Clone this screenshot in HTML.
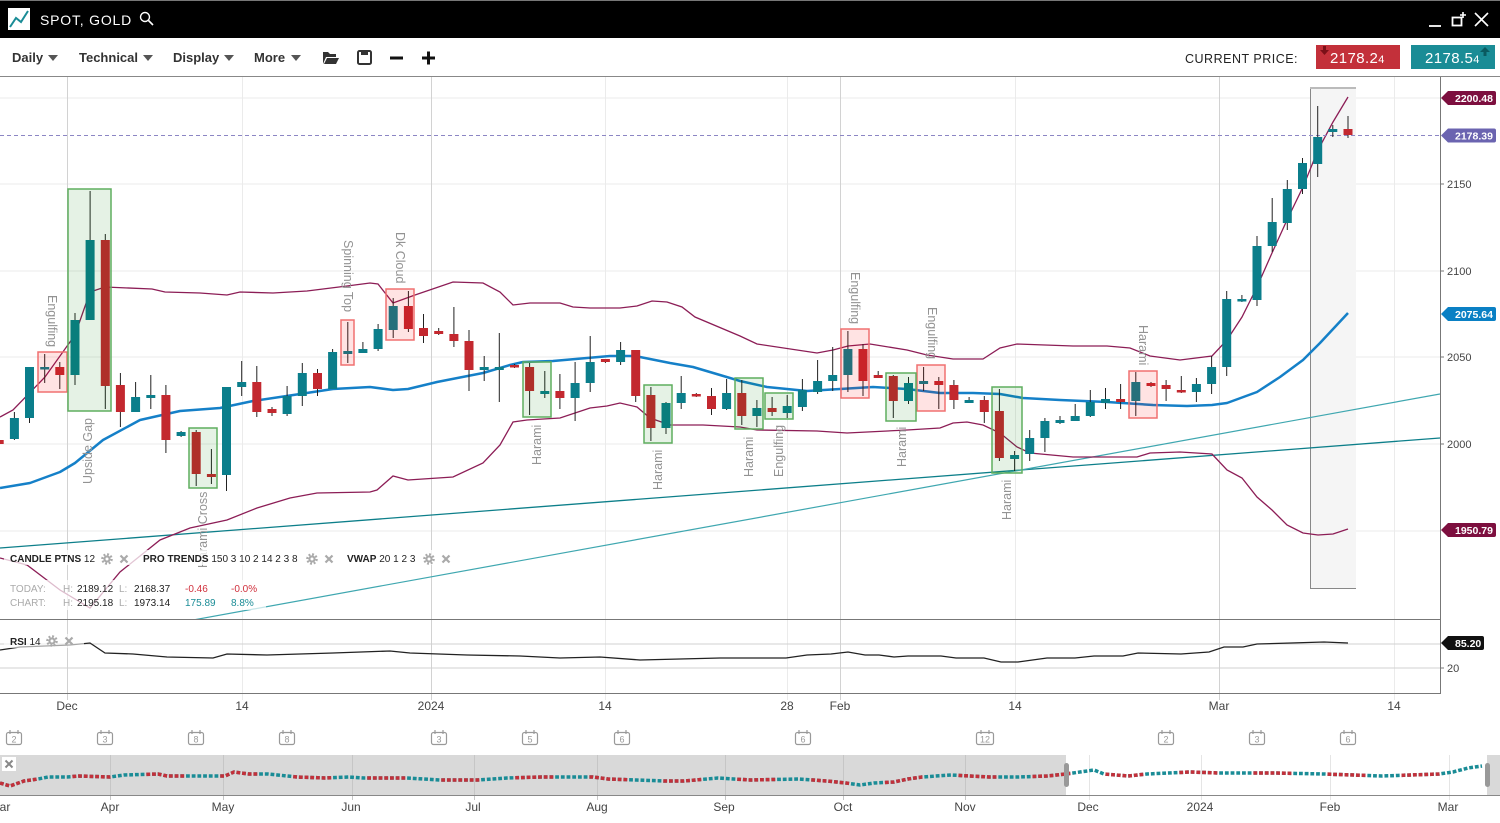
<!DOCTYPE html>
<html><head><meta charset="utf-8"><style>
html,body{margin:0;padding:0;background:#fff;}
svg{display:block;font-family:"Liberation Sans",sans-serif;}
</style></head><body>
<svg width="1500" height="823" viewBox="0 0 1500 823" xmlns="http://www.w3.org/2000/svg">
<defs>
<clipPath id="main"><rect x="0" y="77" width="1440" height="542"/></clipPath>
<clipPath id="rsi"><rect x="0" y="620" width="1440" height="73"/></clipPath>
<g id="gear"><circle r="4.6" fill="none" stroke="#aaa" stroke-width="2.4" stroke-dasharray="1.9 1.7"/><circle r="3.6" fill="#aaa"/><circle r="1.5" fill="#fff"/></g>
</defs>
<rect width="1500" height="823" fill="#fff"/>

<!-- title bar -->
<rect x="0" y="0" width="1500" height="38" fill="#000"/>
<rect x="0" y="0" width="1500" height="1" fill="#777"/>
<rect x="8" y="8" width="22" height="22" fill="#fff"/>
<polyline points="10,27 16,18 21,22 28,11" fill="none" stroke="#1a8c96" stroke-width="2"/>
<text x="40" y="25" fill="#fff" font-size="14" letter-spacing="0.8">SPOT, GOLD</text>
<circle cx="145" cy="17" r="4.5" fill="none" stroke="#fff" stroke-width="1.4"/>
<line x1="148.5" y1="20.5" x2="153" y2="25" stroke="#fff" stroke-width="1.6"/>
<line x1="1429" y1="26" x2="1441" y2="26" stroke="#fff" stroke-width="1.8"/>
<rect x="1452.5" y="17.5" width="9" height="8" fill="none" stroke="#fff" stroke-width="1.8"/>
<path d="M1463,12v6M1460,15h6" stroke="#fff" stroke-width="1.6"/>
<path d="M1475,13L1488,26M1488,13L1475,26" stroke="#fff" stroke-width="1.6"/>

<!-- toolbar -->
<g font-size="13" font-weight="bold" fill="#333">
<text x="12" y="62">Daily</text>
<text x="79" y="62">Technical</text>
<text x="173" y="62">Display</text>
<text x="254" y="62">More</text>
</g>
<g fill="#555">
<polygon points="48,55 58,55 53,61"/>
<polygon points="143,55 153,55 148,61"/>
<polygon points="224,55 234,55 229,61"/>
<polygon points="291,55 301,55 296,61"/>
</g>
<path d="M323,52h5l2,2h6v3h-10l-3,7z" fill="#333"/>
<path d="M327,58h12l-3,6h-12z" fill="#333"/>
<rect x="358" y="51" width="13" height="13" rx="1.5" fill="none" stroke="#333" stroke-width="2"/>
<rect x="361" y="51" width="7" height="4" fill="#333"/>
<rect x="390" y="56.5" width="13" height="3" fill="#111"/>
<rect x="422" y="56.5" width="13" height="3" fill="#111"/>
<rect x="427" y="51.5" width="3" height="13" fill="#111"/>

<text x="1185" y="63" font-size="12.5" letter-spacing="0.5" fill="#222">CURRENT PRICE:</text>
<rect x="1316" y="45" width="84" height="24" fill="#c3303a"/>
<text x="1330" y="63" font-size="15" fill="#fff" letter-spacing="0.4">2178.2<tspan font-size="11">4</tspan></text>
<rect x="1323" y="46" width="3" height="5" fill="#7a1018"/>
<polygon points="1320,50 1329,50 1324.5,55" fill="#7a1018"/>
<rect x="1411" y="45" width="84" height="24" fill="#1a8c96"/>
<text x="1425" y="63" font-size="15" fill="#fff" letter-spacing="0.4">2178.5<tspan font-size="11">4</tspan></text>
<polygon points="1480,52 1490,52 1485,47" fill="#0a5a60"/>
<rect x="1483.5" y="52" width="3" height="4" fill="#0a5a60"/>

<rect x="0" y="76" width="1500" height="1" fill="#888"/>

<!-- grid -->
<g stroke="#ebebeb" stroke-width="1">
<line x1="0" y1="98" x2="1440" y2="98"/>
<line x1="0" y1="184" x2="1440" y2="184"/>
<line x1="0" y1="271" x2="1440" y2="271"/>
<line x1="0" y1="357" x2="1440" y2="357"/>
<line x1="0" y1="444" x2="1440" y2="444"/>
<line x1="0" y1="531" x2="1440" y2="531"/>
<line x1="242.5" y1="77" x2="242.5" y2="700"/>
<line x1="605.5" y1="77" x2="605.5" y2="700"/>
<line x1="787.5" y1="77" x2="787.5" y2="700"/>
<line x1="1015.5" y1="77" x2="1015.5" y2="700"/>
<line x1="1394.5" y1="77" x2="1394.5" y2="700"/>
</g>
<g stroke="#d2d2d2" stroke-width="1">
<line x1="67.5" y1="77" x2="67.5" y2="700"/>
<line x1="431.5" y1="77" x2="431.5" y2="700"/>
<line x1="840.5" y1="77" x2="840.5" y2="700"/>
<line x1="1219.5" y1="77" x2="1219.5" y2="700"/>
</g>

<!-- highlight box -->
<rect x="1310" y="87" width="46" height="501" fill="#f5f5f5"/>
<line x1="1310.5" y1="87" x2="1310.5" y2="589" stroke="#888"/>
<line x1="1310" y1="588.5" x2="1356" y2="588.5" stroke="#888"/>
<line x1="1310" y1="88" x2="1356" y2="88" stroke="#bbb" stroke-width="2"/>

<g clip-path="url(#main)">
<!-- trend lines -->
<line x1="0" y1="548" x2="1440" y2="438" stroke="#0d7f8a" stroke-width="1.3"/>
<line x1="0" y1="655" x2="1440" y2="394" stroke="#3fa7b0" stroke-width="1.2"/>
<!-- bollinger -->
<polyline fill="none" stroke="#8c1d56" stroke-width="1.3" points="0,417 13,410 45,377 75,335 90,292 105,287 152,289 165,292 200,293 227,295 240,292 273,293 307,291 347,286 370,283 378,284 393,303 415,295 453,282 483,283 500,292 513,305 530,303 560,303 573,307 590,308 620,308 637,306 652,301 667,302 682,307 695,317 740,336 757,344 817,353 833,350 848,346 870,344 907,350 927,355 953,359 983,359 1000,348 1017,344 1073,346 1107,346 1130,348 1150,356 1180,360 1212,356 1227,340 1242,317 1257,287 1272,253 1287,220 1303,187 1318,150 1333,122 1348,97"/>
<polyline fill="none" stroke="#8c1d56" stroke-width="1.3" points="0,558 27,565 60,590 90,608 120,572 160,540 190,528 227,520 257,508 290,498 317,493 370,492 377,490 393,476 408,480 453,477 483,463 500,445 513,422 527,420 560,418 590,408 607,406 620,403 637,407 650,418 670,425 703,425 740,427 757,430 817,431 847,433 907,430 940,428 953,423 967,422 983,425 1000,433 1017,447 1030,453 1073,457 1107,457 1137,457 1150,453 1180,452 1212,454 1227,470 1242,478 1257,497 1272,510 1287,525 1303,533 1318,535 1333,534 1348,529"/>
<!-- MA -->
<polyline fill="none" stroke="#1580c8" stroke-width="2.5" stroke-linejoin="round" points="0,488 30,483 60,472 75,463 103,440 140,420 180,411 220,408 253,401 300,394 333,389 370,387 393,390 408,389 437,382 483,373 510,365 523,362 553,361 587,358 610,356 633,356 640,357 670,363 693,367 720,375 740,381 767,387 807,391 840,389 873,387 907,389 940,393 973,393 1000,394 1023,398 1060,400 1107,402 1153,405 1187,406 1212,405 1227,403 1257,392 1280,377 1303,360 1320,343 1348,313"/>

<!-- current price line -->
<line x1="0" y1="135.5" x2="1440" y2="135.5" stroke="#8c86c4" stroke-dasharray="4 3"/>

<!-- wicks -->
<path fill="none" stroke="#222" stroke-width="1" d="M-0.8 440V444M14.4 412V440M29.5 367V423M44.7 354V383M59.8 362V389M75 313V385M90.1 191V320M105.3 234V409M120.4 373V427M135.6 382V412M150.8 375V409M165.9 385V453M181.1 431V437M196.2 430V486M211.4 449V484M226.5 387V491M241.7 361V396M256.8 366V417M272 407V416M287.1 386V416M302.3 363V406M317.5 369V396M332.6 349V389M347.8 322V363M362.9 342V353M378.1 324V351M393.2 298V338M408.4 291V332M423.5 314V343M438.7 328V335M453.9 307V347M469 330V391M484.2 356V381M499.3 333V402M514.5 364V368M529.6 363V415M544.8 371V398M559.9 374V409M575.1 362V421M590.2 336V392M605.4 359V363M620.6 342V365M635.7 350V402M650.9 387V441M666 402V434M681.2 376V409M696.3 393V397M711.5 388V415M726.6 379V410M741.8 380V425M756.9 400V427M772.1 397V416M787.2 395V418M802.4 379V411M817.6 360V394M832.7 347V391M847.9 331V392M863 344V396M878.2 371V378M893.3 375V418M908.5 377V404M923.6 367V391M938.8 377V409M953.9 380V409M969.1 397V403M984.3 396V423M999.4 389V461M1014.6 451V471M1029.7 430V461M1044.9 418V452M1060 416V424M1075.2 404V421M1090.3 390V417M1105.5 388V409M1120.6 384V409M1135.8 372V416M1151 382V387M1166.1 380V401M1181.3 376V393M1196.4 378V402M1211.6 356V394M1226.7 291V376M1241.9 295V302M1257 236V306M1272.2 198V252M1287.3 180V230M1302.5 158V194M1317.7 106V177M1332.8 125V137M1348 116V138"/>

<!-- teal bodies -->
<g fill="#0b7e8b">
<rect x="9.9" y="418" width="9" height="21"/>
<rect x="25" y="367" width="9" height="51"/>
<rect x="40.2" y="367" width="9" height="2.5"/>
<rect x="70.5" y="320" width="9" height="55"/>
<rect x="85.6" y="240" width="9" height="80"/>
<rect x="131.1" y="397" width="9" height="15"/>
<rect x="146.3" y="395" width="9" height="3"/>
<rect x="176.6" y="432" width="9" height="4"/>
<rect x="222" y="387" width="9" height="88"/>
<rect x="237.2" y="382" width="9" height="5"/>
<rect x="282.6" y="396" width="9" height="18"/>
<rect x="297.8" y="373" width="9" height="23"/>
<rect x="328.1" y="352" width="9" height="37"/>
<rect x="343.3" y="351" width="9" height="3"/>
<rect x="358.4" y="349" width="9" height="4"/>
<rect x="373.6" y="329" width="9" height="20"/>
<rect x="388.7" y="306" width="9" height="24"/>
<rect x="479.7" y="367" width="9" height="3"/>
<rect x="494.8" y="367" width="9" height="3"/>
<rect x="540.3" y="391" width="9" height="3"/>
<rect x="570.6" y="383" width="9" height="15"/>
<rect x="585.7" y="362" width="9" height="21"/>
<rect x="616.1" y="350" width="9" height="12"/>
<rect x="661.5" y="403" width="9" height="25"/>
<rect x="676.7" y="393" width="9" height="10"/>
<rect x="722.1" y="393" width="9" height="16"/>
<rect x="752.4" y="408" width="9" height="8"/>
<rect x="782.7" y="406" width="9" height="7"/>
<rect x="797.9" y="390" width="9" height="17"/>
<rect x="813.1" y="381" width="9" height="11"/>
<rect x="828.2" y="375" width="9" height="6"/>
<rect x="843.4" y="349" width="9" height="26"/>
<rect x="904" y="383" width="9" height="18"/>
<rect x="919.1" y="381" width="9" height="3"/>
<rect x="964.6" y="400" width="9" height="3"/>
<rect x="1010.1" y="455" width="9" height="4"/>
<rect x="1025.2" y="438" width="9" height="16"/>
<rect x="1040.4" y="421" width="9" height="17"/>
<rect x="1055.5" y="420" width="9" height="3"/>
<rect x="1070.7" y="416" width="9" height="5"/>
<rect x="1085.8" y="402" width="9" height="14"/>
<rect x="1101" y="399" width="9" height="4"/>
<rect x="1131.3" y="382" width="9" height="19"/>
<rect x="1191.9" y="384" width="9" height="8"/>
<rect x="1207.1" y="367" width="9" height="17"/>
<rect x="1222.2" y="299" width="9" height="68"/>
<rect x="1237.4" y="299" width="9" height="2.5"/>
<rect x="1252.5" y="246" width="9" height="54"/>
<rect x="1267.7" y="222" width="9" height="24"/>
<rect x="1282.8" y="189" width="9" height="34"/>
<rect x="1298" y="163" width="9" height="26"/>
<rect x="1313.2" y="137" width="9" height="27"/>
<rect x="1328.3" y="129" width="9" height="3"/>
</g>
<!-- red bodies -->
<g fill="#c3282f">
<rect x="-5.3" y="440" width="9" height="4"/>
<rect x="55.3" y="367" width="9" height="8"/>
<rect x="100.8" y="240" width="9" height="146"/>
<rect x="115.9" y="385" width="9" height="27"/>
<rect x="161.4" y="395" width="9" height="45"/>
<rect x="191.7" y="432" width="9" height="42"/>
<rect x="206.9" y="474" width="9" height="3"/>
<rect x="252.3" y="382" width="9" height="30"/>
<rect x="267.5" y="409" width="9" height="4"/>
<rect x="313" y="373" width="9" height="16"/>
<rect x="403.9" y="306" width="9" height="23"/>
<rect x="419" y="328" width="9" height="8"/>
<rect x="434.2" y="331" width="9" height="3"/>
<rect x="449.4" y="334" width="9" height="7"/>
<rect x="464.5" y="341" width="9" height="29"/>
<rect x="510" y="365" width="9" height="2.5"/>
<rect x="525.1" y="367" width="9" height="24"/>
<rect x="555.4" y="391" width="9" height="7"/>
<rect x="600.9" y="359" width="9" height="3"/>
<rect x="631.2" y="350" width="9" height="46"/>
<rect x="646.4" y="395" width="9" height="33"/>
<rect x="691.8" y="394" width="9" height="2.5"/>
<rect x="707" y="396" width="9" height="13"/>
<rect x="737.3" y="393" width="9" height="23"/>
<rect x="767.6" y="408" width="9" height="4"/>
<rect x="858.5" y="349" width="9" height="32"/>
<rect x="873.7" y="375" width="9" height="3"/>
<rect x="888.8" y="376" width="9" height="25"/>
<rect x="934.3" y="381" width="9" height="4"/>
<rect x="949.4" y="385" width="9" height="15"/>
<rect x="979.8" y="400" width="9" height="12"/>
<rect x="994.9" y="411" width="9" height="47"/>
<rect x="1116.1" y="399" width="9" height="3"/>
<rect x="1146.5" y="383" width="9" height="3"/>
<rect x="1161.6" y="385" width="9" height="4"/>
<rect x="1176.8" y="390" width="9" height="2.5"/>
<rect x="1343.5" y="129" width="9" height="6"/>
</g>

<!-- pattern boxes -->
<g fill="#ff0000" fill-opacity="0.11" stroke="#f07070" stroke-width="1.5">
<rect x="38" y="352" width="29" height="40"/>
<rect x="341" y="320" width="13" height="45"/>
<rect x="386" y="289" width="28" height="51"/>
<rect x="841" y="329" width="28" height="69"/>
<rect x="917" y="365" width="28" height="46"/>
<rect x="1129" y="371" width="28" height="47"/>
</g>
<g fill="#008000" fill-opacity="0.1" stroke="#5fae5f" stroke-width="1.5">
<rect x="68" y="189" width="43" height="222"/>
<rect x="189" y="428" width="28" height="60"/>
<rect x="523" y="362" width="28" height="55"/>
<rect x="644" y="385" width="28" height="58"/>
<rect x="735" y="378" width="28" height="51"/>
<rect x="765" y="393" width="28" height="26"/>
<rect x="886" y="373" width="30" height="48"/>
<rect x="992" y="387" width="30" height="86"/>
</g>

<!-- pattern labels -->
<g font-size="12.5" fill="#939393">
<text transform="translate(48,295) rotate(90)">Engulfing</text>
<text transform="translate(92,484) rotate(-90)">Upside Gap</text>
<text transform="translate(207,568) rotate(-90)">Harami Cross</text>
<text transform="translate(344,240) rotate(90)">Spinning Top</text>
<text transform="translate(396,232) rotate(90)">Dk Cloud</text>
<text transform="translate(541,465) rotate(-90)">Harami</text>
<text transform="translate(662,490) rotate(-90)">Harami</text>
<text transform="translate(753,477) rotate(-90)">Harami</text>
<text transform="translate(783,477) rotate(-90)">Engulfing</text>
<text transform="translate(851,272) rotate(90)">Engulfing</text>
<text transform="translate(928,307) rotate(90)">Engulfing</text>
<text transform="translate(906,467) rotate(-90)">Harami</text>
<text transform="translate(1011,520) rotate(-90)">Harami</text>
<text transform="translate(1139,325) rotate(90)">Harami</text>
</g>
</g>

<!-- legend -->
<rect x="4" y="550" width="454" height="15" fill="#fff" fill-opacity="0.75"/>
<rect x="4" y="580" width="262" height="30" fill="#fff" fill-opacity="0.7"/>
<g font-size="10" fill="#222">
<text x="10" y="562"><tspan font-weight="bold">CANDLE PTNS</tspan> 12</text>
<text x="143" y="562"><tspan font-weight="bold">PRO TRENDS</tspan> 150 3 10 2 14 2 3 8</text>
<text x="347" y="562"><tspan font-weight="bold">VWAP</tspan> 20 1 2 3</text>
<text x="10" y="592" fill="#aaa">TODAY:</text>
<text x="63" y="592" fill="#aaa">H:</text>
<text x="77" y="592">2189.12</text>
<text x="119" y="592" fill="#aaa">L:</text>
<text x="134" y="592">2168.37</text>
<text x="185" y="592" fill="#d0303c">-0.46</text>
<text x="231" y="592" fill="#d0303c">-0.0%</text>
<text x="10" y="606" fill="#aaa">CHART:</text>
<text x="63" y="606" fill="#aaa">H:</text>
<text x="77" y="606">2195.18</text>
<text x="119" y="606" fill="#aaa">L:</text>
<text x="134" y="606">1973.14</text>
<text x="185" y="606" fill="#1a8c96">175.89</text>
<text x="231" y="606" fill="#1a8c96">8.8%</text>
</g>
<use href="#gear" x="107" y="559"/>
<use href="#gear" x="312" y="559"/>
<use href="#gear" x="429" y="559"/>
<g stroke="#aaa" stroke-width="2.2">
<path d="M120.5,555.5l7,7M127.5,555.5l-7,7"/>
<path d="M325.5,555.5l7,7M332.5,555.5l-7,7"/>
<path d="M442.5,555.5l7,7M449.5,555.5l-7,7"/>
</g>

<!-- panel lines -->
<line x1="0" y1="619.5" x2="1440" y2="619.5" stroke="#777"/>
<line x1="0" y1="693.5" x2="1440" y2="693.5" stroke="#777"/>
<line x1="1440.5" y1="77" x2="1440.5" y2="694" stroke="#777"/>

<!-- RSI -->
<line x1="0" y1="644" x2="1440" y2="644" stroke="#d0d0d0"/>
<line x1="0" y1="668" x2="1440" y2="668" stroke="#d0d0d0"/>
<g clip-path="url(#rsi)">
<polyline fill="none" stroke="#222" stroke-width="1.3" points="0,650 20,647 70,645 90,643 105,653 133,654 167,657 213,658 227,654 267,655 333,653 390,651 410,653 467,655 520,656 560,658 600,657 640,660 680,659 720,658 750,658 786,658 807,655 831,654 848,652 865,655 879,655 894,657 908,656 941,656 956,658 984,658 1001,662 1018,662 1047,658 1075,658 1094,656 1123,656 1138,653 1181,654 1209,652 1224,647 1243,647 1257,644 1291,643 1324,642 1348,643"/>
</g>
<rect x="4" y="634" width="80" height="14" fill="#fff" fill-opacity="0.6"/>
<text x="10" y="645" font-size="10" fill="#222"><tspan font-weight="bold">RSI</tspan> 14</text>
<use href="#gear" x="52" y="641"/>
<path d="M65.5,637.5l7,7M72.5,637.5l-7,7" stroke="#aaa" stroke-width="2.2"/>

<!-- right axis -->
<g stroke="#777"><line x1="1440" y1="184" x2="1444" y2="184"/><line x1="1440" y1="271" x2="1444" y2="271"/><line x1="1440" y1="357" x2="1444" y2="357"/><line x1="1440" y1="444" x2="1444" y2="444"/><line x1="1440" y1="668" x2="1444" y2="668"/></g>
<g font-size="11" fill="#444">
<text x="1447" y="188">2150</text>
<text x="1447" y="275">2100</text>
<text x="1447" y="361">2050</text>
<text x="1447" y="448">2000</text>
<text x="1447" y="672">20</text>
</g>
<g font-size="10.5" font-weight="bold" fill="#fff">
<path d="M1441,98 l7,-7 h46 q2,0 2,2 v10 q0,2 -2,2 h-46 z" fill="#7d0f3f"/>
<text x="1455" y="102">2200.48</text>
<path d="M1441,135.5 l7,-7 h46 q2,0 2,2 v10 q0,2 -2,2 h-46 z" fill="#6b64b0"/>
<text x="1455" y="139.5">2178.39</text>
<path d="M1441,314 l7,-7 h46 q2,0 2,2 v10 q0,2 -2,2 h-46 z" fill="#0a80c4"/>
<text x="1455" y="318">2075.64</text>
<path d="M1441,530 l7,-7 h46 q2,0 2,2 v10 q0,2 -2,2 h-46 z" fill="#7d0f3f"/>
<text x="1455" y="534">1950.79</text>
<path d="M1441,643 l7,-7 h34 q2,0 2,2 v10 q0,2 -2,2 h-34 z" fill="#111"/>
<text x="1455" y="647">85.20</text>
</g>

<!-- x axis labels -->
<g font-size="12" fill="#444" text-anchor="middle">
<text x="67" y="710">Dec</text>
<text x="242" y="710">14</text>
<text x="431" y="710">2024</text>
<text x="605" y="710">14</text>
<text x="787" y="710">28</text>
<text x="840" y="710">Feb</text>
<text x="1015" y="710">14</text>
<text x="1219" y="710">Mar</text>
<text x="1394" y="710">14</text>
</g>

<!-- calendar icons -->
<g font-size="9" fill="#999" text-anchor="middle" stroke-width="1.2">
<g transform="translate(14,0)"><rect x="-7.5" y="732.5" width="15" height="12" rx="2" fill="#fff" stroke="#999"/><path d="M-4,730v4M4,730v4" stroke="#999"/><text y="742.5" stroke="none">2</text></g>
<g transform="translate(105,0)"><rect x="-7.5" y="732.5" width="15" height="12" rx="2" fill="#fff" stroke="#999"/><path d="M-4,730v4M4,730v4" stroke="#999"/><text y="742.5" stroke="none">3</text></g>
<g transform="translate(196,0)"><rect x="-7.5" y="732.5" width="15" height="12" rx="2" fill="#fff" stroke="#999"/><path d="M-4,730v4M4,730v4" stroke="#999"/><text y="742.5" stroke="none">8</text></g>
<g transform="translate(287,0)"><rect x="-7.5" y="732.5" width="15" height="12" rx="2" fill="#fff" stroke="#999"/><path d="M-4,730v4M4,730v4" stroke="#999"/><text y="742.5" stroke="none">8</text></g>
<g transform="translate(439,0)"><rect x="-7.5" y="732.5" width="15" height="12" rx="2" fill="#fff" stroke="#999"/><path d="M-4,730v4M4,730v4" stroke="#999"/><text y="742.5" stroke="none">3</text></g>
<g transform="translate(530,0)"><rect x="-7.5" y="732.5" width="15" height="12" rx="2" fill="#fff" stroke="#999"/><path d="M-4,730v4M4,730v4" stroke="#999"/><text y="742.5" stroke="none">5</text></g>
<g transform="translate(622,0)"><rect x="-7.5" y="732.5" width="15" height="12" rx="2" fill="#fff" stroke="#999"/><path d="M-4,730v4M4,730v4" stroke="#999"/><text y="742.5" stroke="none">6</text></g>
<g transform="translate(803,0)"><rect x="-7.5" y="732.5" width="15" height="12" rx="2" fill="#fff" stroke="#999"/><path d="M-4,730v4M4,730v4" stroke="#999"/><text y="742.5" stroke="none">6</text></g>
<g transform="translate(985,0)"><rect x="-8.5" y="732.5" width="17" height="12" rx="2" fill="#fff" stroke="#999"/><path d="M-4,730v4M4,730v4" stroke="#999"/><text y="742.5" stroke="none">12</text></g>
<g transform="translate(1166,0)"><rect x="-7.5" y="732.5" width="15" height="12" rx="2" fill="#fff" stroke="#999"/><path d="M-4,730v4M4,730v4" stroke="#999"/><text y="742.5" stroke="none">2</text></g>
<g transform="translate(1257,0)"><rect x="-7.5" y="732.5" width="15" height="12" rx="2" fill="#fff" stroke="#999"/><path d="M-4,730v4M4,730v4" stroke="#999"/><text y="742.5" stroke="none">3</text></g>
<g transform="translate(1348,0)"><rect x="-7.5" y="732.5" width="15" height="12" rx="2" fill="#fff" stroke="#999"/><path d="M-4,730v4M4,730v4" stroke="#999"/><text y="742.5" stroke="none">6</text></g>
</g>

<!-- navigator -->
<rect x="0" y="755" width="1066" height="40" fill="#d9d9d9"/>
<rect x="1487" y="755" width="13" height="40" fill="#d9d9d9"/>
<g stroke="#c6c6c6">
<line x1="110.5" y1="755" x2="110.5" y2="800"/>
<line x1="223.5" y1="755" x2="223.5" y2="800"/>
<line x1="352.5" y1="755" x2="352.5" y2="800"/>
<line x1="474.5" y1="755" x2="474.5" y2="800"/>
<line x1="597.5" y1="755" x2="597.5" y2="800"/>
<line x1="725.5" y1="755" x2="725.5" y2="800"/>
<line x1="843.5" y1="755" x2="843.5" y2="800"/>
<line x1="965.5" y1="755" x2="965.5" y2="800"/>
</g>
<g stroke="#e5e5e5">
<line x1="1089.5" y1="755" x2="1089.5" y2="800"/>
<line x1="1201.5" y1="755" x2="1201.5" y2="800"/>
<line x1="1330.5" y1="755" x2="1330.5" y2="800"/>
<line x1="1449.5" y1="755" x2="1449.5" y2="800"/>
</g>
<polyline fill="none" stroke="#1a8c96" stroke-width="3.5" stroke-dasharray="3.8 1.9" points="0,783 10,786 24,781 38,779 48,777 67,777 79,776 110,777 124,775 158,774 167,776 225,776 234,772 249,774 268,774 297,777 325,778 349,777 364,778 407,778 440,780 478,780 507,778 541,777 593,777 608,779 636,780 665,781 684,781 718,778 750,780 798,779 827,781 846,783 860,785 874,783 894,782 908,779 922,777 951,775 989,777 1018,777 1047,776 1066,774 1094,770 1104,774 1128,776 1147,774 1190,772 1219,773 1276,773 1324,774 1382,776 1439,774 1453,772 1468,768 1482,766"/>
<polyline fill="none" stroke="#c3303a" stroke-width="3.5" stroke-dasharray="3.8 1.9 3.8 1.9 3.8 1.9 3.8 1.9 3.8 1.9 3.8 1.9 3.8 36.1" points="0,783 10,786 24,781 38,779 48,777 67,777 79,776 110,777 124,775 158,774 167,776 225,776 234,772 249,774 268,774 297,777 325,778 349,777 364,778 407,778 440,780 478,780 507,778 541,777 593,777 608,779 636,780 665,781 684,781 718,778 750,780 798,779 827,781 846,783 860,785 874,783 894,782 908,779 922,777 951,775 989,777 1018,777 1047,776 1066,774 1094,770 1104,774 1128,776 1147,774 1190,772 1219,773 1276,773 1324,774 1382,776 1439,774 1453,772"/>
<rect x="0" y="795" width="1500" height="1" fill="#888"/>
<rect x="1064" y="763" width="5" height="24" rx="2.5" fill="#999"/>
<rect x="1485" y="763" width="5" height="24" rx="2.5" fill="#999"/>
<rect x="2" y="757" width="14" height="14" fill="#fff"/>
<path d="M5.5,760.5l7,7M12.5,760.5l-7,7" stroke="#888" stroke-width="2"/>
<g font-size="12" fill="#444" text-anchor="middle">
<text x="5" y="811">ar</text>
<text x="110" y="811">Apr</text>
<text x="223" y="811">May</text>
<text x="351" y="811">Jun</text>
<text x="473" y="811">Jul</text>
<text x="597" y="811">Aug</text>
<text x="724" y="811">Sep</text>
<text x="843" y="811">Oct</text>
<text x="965" y="811">Nov</text>
<text x="1088" y="811">Dec</text>
<text x="1200" y="811">2024</text>
<text x="1330" y="811">Feb</text>
<text x="1448" y="811">Mar</text>
</g>
</svg>
</body></html>
